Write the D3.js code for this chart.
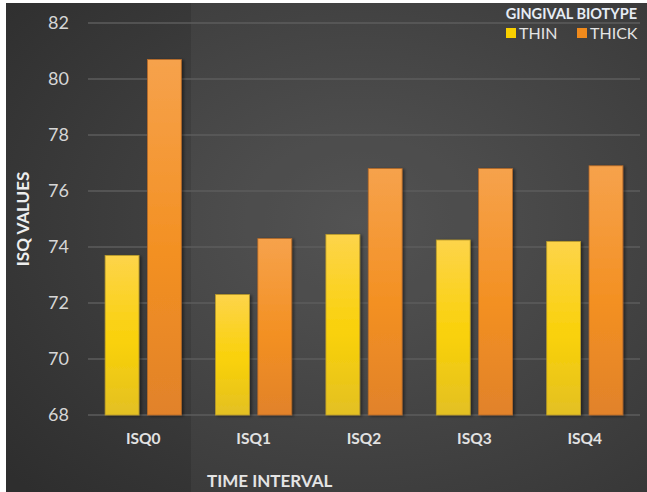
<!DOCTYPE html>
<html lang="en">
<head>
    <meta charset="UTF-8">
    <title>ISQ values by gingival biotype</title>
    <script src="https://d3js.org/d3.v7.min.js"></script>
    <style>
        body { margin: 0; background: #fff; }
        text { font-family: Lato, "Open Sans", sans-serif; }
    </style>
</head>
<body>
    <svg width="647" height="492"></svg>

    <script>
        // data
        const intervals = ['ISQ0', 'ISQ1', 'ISQ2', 'ISQ3', 'ISQ4'];
        const biotypes = ['THIN', 'THICK'];
        const thinValues = [73.7, 72.3, 74.45, 74.25, 74.2];
        const thickValues = [80.7, 74.3, 76.8, 76.8, 76.9];
        const yTicks = [68, 70, 72, 74, 76, 78, 80, 82];

        const width = 647, height = 492;
        const margin = { top: 23, right: 7, bottom: 77, left: 88 };

        const svg = d3.select('svg');
        const defs = svg.append('defs');

        // background gradient
        const bg = defs.append('radialGradient').attr('id', 'bg')
            .attr('cx', '55%').attr('cy', '45%').attr('r', '75%');
        bg.append('stop').attr('offset', '0%').attr('stop-color', '#4c4c4c');
        bg.append('stop').attr('offset', '100%').attr('stop-color', '#2e2e2e');

        const yellow = defs.append('linearGradient').attr('id', 'gYellow')
            .attr('x1', 0).attr('y1', 0).attr('x2', 0).attr('y2', 1);
        yellow.append('stop').attr('offset', '0%').attr('stop-color', '#fdd44a');
        yellow.append('stop').attr('offset', '55%').attr('stop-color', '#f9d108');
        yellow.append('stop').attr('offset', '100%').attr('stop-color', '#e3c024');

        const orange = defs.append('linearGradient').attr('id', 'gOrange')
            .attr('x1', 0).attr('y1', 0).attr('x2', 0).attr('y2', 1);
        orange.append('stop').attr('offset', '0%').attr('stop-color', '#f6a24c');
        orange.append('stop').attr('offset', '55%').attr('stop-color', '#f39022');
        orange.append('stop').attr('offset', '100%').attr('stop-color', '#e1822a');

        const shadow = defs.append('filter').attr('id', 'shadow')
            .attr('x', '-20%').attr('y', '-5%').attr('width', '150%').attr('height', '115%');
        shadow.append('feDropShadow').attr('dx', 2).attr('dy', 1)
            .attr('stdDeviation', 1.5).attr('flood-color', '#000').attr('flood-opacity', 0.45);

        // background + lighter panel on the right
        svg.append('rect').attr('x', 6).attr('y', 3)
            .attr('width', width - 6).attr('height', height - 3)
            .attr('fill', 'url(#bg)');
        svg.append('rect').attr('x', 191).attr('y', 3)
            .attr('width', width - 191).attr('height', height - 3)
            .attr('fill', '#ffffff').attr('opacity', 0.045);

        const x0 = d3.scaleBand()
            .domain(intervals)
            .range([margin.left, width - margin.right])
            .paddingInner(0.31)
            .paddingOuter(0.155);

        const x1 = d3.scaleBand()
            .domain(biotypes)
            .range([0, x0.bandwidth()])
            .paddingInner(0.2);

        const y = d3.scaleLinear()
            .domain([68, 82])
            .range([height - margin.bottom, margin.top]);

        // gridlines
        svg.append('g')
            .selectAll('line')
            .data(yTicks)
            .join('line')
            .attr('x1', margin.left)
            .attr('x2', width - margin.right)
            .attr('y1', d => y(d))
            .attr('y2', d => y(d))
            .attr('stroke', '#5c5c5c')
            .attr('stroke-width', 1.5);

        // y tick labels
        svg.append('g')
            .selectAll('text')
            .data(yTicks)
            .join('text')
            .attr('x', 69)
            .attr('y', d => y(d))
            .attr('dy', '0.36em')
            .attr('text-anchor', 'end')
            .attr('fill', '#d6d6d6')
            .attr('font-size', 18)
            .text(d => d);

        // bars
        const rows = intervals.map((k, i) => ({ key: k, THIN: thinValues[i], THICK: thickValues[i] }));
        const fills = { THIN: 'url(#gYellow)', THICK: 'url(#gOrange)' };
        const strokes = { THIN: '#b99a2a', THICK: '#b56a2a' };

        svg.append('g')
            .selectAll('g')
            .data(rows)
            .join('g')
            .attr('transform', d => `translate(${x0(d.key)},0)`)
            .selectAll('rect')
            .data(d => biotypes.map(b => ({ b, v: d[b] })))
            .join('rect')
            .attr('x', d => x1(d.b))
            .attr('y', d => y(d.v))
            .attr('width', x1.bandwidth())
            .attr('height', d => y(68) - y(d.v))
            .attr('fill', d => fills[d.b])
            .attr('stroke', d => strokes[d.b])
            .attr('stroke-width', 0.8)
            .attr('filter', 'url(#shadow)');

        // x labels
        svg.append('g')
            .selectAll('text')
            .data(intervals)
            .join('text')
            .attr('x', d => x0(d) + x0.bandwidth() / 2)
            .attr('y', 444)
            .attr('text-anchor', 'middle')
            .attr('fill', '#e2e2e2')
            .attr('font-size', 15.5)
            .attr('font-weight', 'bold')
            .text(d => d);

        // axis titles
        svg.append('text')
            .attr('x', 207)
            .attr('y', 487)
            .attr('fill', '#e4e4e4')
            .attr('font-size', 17)
            .attr('font-weight', 'bold')
            .text('TIME INTERVAL');

        svg.append('text')
            .attr('transform', 'translate(29,219) rotate(-90)')
            .attr('text-anchor', 'middle')
            .attr('fill', '#eeeeee')
            .attr('font-size', 17)
            .attr('font-weight', 'bold')
            .text('ISQ VALUES');

        // legend
        const legend = svg.append('g');
        legend.append('text')
            .attr('x', 637).attr('y', 19)
            .attr('text-anchor', 'end')
            .attr('fill', '#e6ecf4')
            .attr('font-size', 14.5)
            .attr('font-weight', 'bold')
            .text('GINGIVAL BIOTYPE');

        const legendItems = [
            { name: 'THIN', color: '#f9d000', x: 506 },
            { name: 'THICK', color: '#f08a1c', x: 577 }
        ];
        legend.selectAll('rect.sw')
            .data(legendItems)
            .join('rect')
            .attr('class', 'sw')
            .attr('x', d => d.x).attr('y', 28)
            .attr('width', 10).attr('height', 10)
            .attr('fill', d => d.color);
        legend.selectAll('text.lb')
            .data(legendItems)
            .join('text')
            .attr('class', 'lb')
            .attr('x', d => d.x + 13).attr('y', 39)
            .attr('fill', '#e4e4e4')
            .attr('font-size', 16)
            .text(d => d.name);
    </script>
</body>
</html>
